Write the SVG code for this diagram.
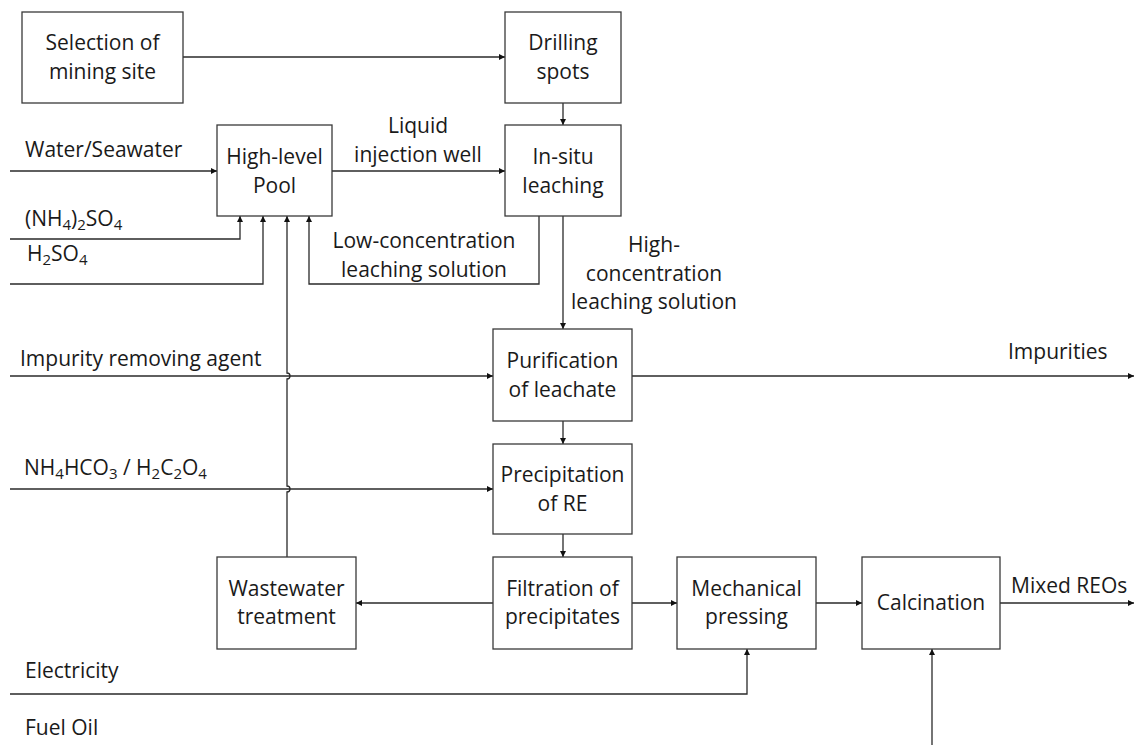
<svg xmlns="http://www.w3.org/2000/svg" width="1139" height="749" viewBox="0 0 1139 749">
<defs>
<style>
text{font-family:"Open Sans","Liberation Sans",sans-serif;font-size:21px;fill:#1a1a1a}
.c{text-anchor:middle}
.box{fill:#fff;stroke:#3a3a3a;stroke-width:1.3}
.ln{fill:none;stroke:#2a2a2a;stroke-width:1.3}
.ar{marker-end:url(#ah)}
.s{font-size:15px}
</style>
<marker id="ah" viewBox="0 0 6 6" refX="6" refY="3" markerWidth="6" markerHeight="6" markerUnits="userSpaceOnUse" orient="auto">
<path d="M0,0 L6,3 L0,6 z" fill="#111"/>
</marker>
</defs>
<rect width="1139" height="749" fill="#fff"/>
<g id="connectors">
<path class="ln ar" d="M183,57 H505"/>
<path class="ln ar" d="M563,103 V125"/>
<path class="ln ar" d="M10,171 H217"/>
<path class="ln ar" d="M332,171 H505"/>
<path class="ln ar" d="M10,239 H240 V216"/>
<path class="ln ar" d="M10,284 H263 V216"/>
<path class="ln ar" d="M539,216 V284 H309 V216"/>
<path class="ln ar" d="M287,557 V492 A3,3 0 0 0 287,486 V379 A3,3 0 0 0 287,373 V216"/>
<path class="ln ar" d="M563,216 V329"/>
<path class="ln ar" d="M10,376 H493"/>
<path class="ln ar" d="M632,376 H1134"/>
<path class="ln ar" d="M563,421 V444"/>
<path class="ln ar" d="M10,489 H493"/>
<path class="ln ar" d="M563,534 V557"/>
<path class="ln ar" d="M493,603 H356"/>
<path class="ln ar" d="M632,603 H677"/>
<path class="ln ar" d="M816,603 H862"/>
<path class="ln ar" d="M1000,603 H1134"/>
<path class="ln ar" d="M10,694 H747 V649"/>
<path class="ln ar" d="M932,745 V649"/>
</g>
<g id="labels">
<text x="25" y="157">Water/Seawater</text>
<text x="25" y="226">(NH<tspan class="s" dy="4">4</tspan><tspan dy="-4">)</tspan><tspan class="s" dy="4">2</tspan><tspan dy="-4">SO</tspan><tspan class="s" dy="4">4</tspan></text>
<text x="27" y="261">H<tspan class="s" dy="4">2</tspan><tspan dy="-4">SO</tspan><tspan class="s" dy="4">4</tspan></text>
<text class="c" x="418" y="133">Liquid</text>
<text class="c" x="418" y="162">injection well</text>
<text class="c" x="424" y="248">Low-concentration</text>
<text class="c" x="424" y="277">leaching solution</text>
<text class="c" x="654" y="252">High-</text>
<text class="c" x="654" y="281">concentration</text>
<text class="c" x="654" y="309">leaching solution</text>
<text x="20" y="366">Impurity removing agent</text>
<text x="1008" y="359">Impurities</text>
<text x="24" y="475">NH<tspan class="s" dy="4">4</tspan><tspan dy="-4">HCO</tspan><tspan class="s" dy="4">3</tspan><tspan dy="-4"> / H</tspan><tspan class="s" dy="4">2</tspan><tspan dy="-4">C</tspan><tspan class="s" dy="4">2</tspan><tspan dy="-4">O</tspan><tspan class="s" dy="4">4</tspan></text>
<text x="1011" y="593">Mixed REOs</text>
<text x="25" y="678">Electricity</text>
<text x="25" y="735">Fuel Oil</text>
</g>
<g id="selection">
<rect class="box" x="22" y="12" width="161" height="91"/>
<text class="c" x="102.5" y="50">Selection of</text>
<text class="c" x="102.5" y="79">mining site</text>
</g>
<g id="drilling">
<rect class="box" x="505" y="12" width="116" height="91"/>
<text class="c" x="563" y="50">Drilling</text>
<text class="c" x="563" y="79">spots</text>
</g>
<g id="pool">
<rect class="box" x="217" y="125" width="115" height="91"/>
<text class="c" x="274.5" y="164">High-level</text>
<text class="c" x="274.5" y="193">Pool</text>
</g>
<g id="insitu">
<rect class="box" x="505" y="125" width="116" height="91"/>
<text class="c" x="563" y="164">In-situ</text>
<text class="c" x="563" y="193">leaching</text>
</g>
<g id="purification">
<rect class="box" x="493" y="329" width="139" height="92"/>
<text class="c" x="562.5" y="368">Purification</text>
<text class="c" x="562.5" y="397">of leachate</text>
</g>
<g id="precipitation">
<rect class="box" x="493" y="444" width="139" height="90"/>
<text class="c" x="562.5" y="482">Precipitation</text>
<text class="c" x="562.5" y="511">of RE</text>
</g>
<g id="wastewater">
<rect class="box" x="217" y="557" width="139" height="92"/>
<text class="c" x="286.5" y="596">Wastewater</text>
<text class="c" x="286.5" y="624">treatment</text>
</g>
<g id="filtration">
<rect class="box" x="493" y="557" width="139" height="92"/>
<text class="c" x="562.5" y="596">Filtration of</text>
<text class="c" x="562.5" y="624">precipitates</text>
</g>
<g id="mechanical">
<rect class="box" x="677" y="557" width="139" height="92"/>
<text class="c" x="746.5" y="596">Mechanical</text>
<text class="c" x="746.5" y="624">pressing</text>
</g>
<g id="calcination">
<rect class="box" x="862" y="557" width="138" height="92"/>
<text class="c" x="931" y="610">Calcination</text>
</g>
</svg>
